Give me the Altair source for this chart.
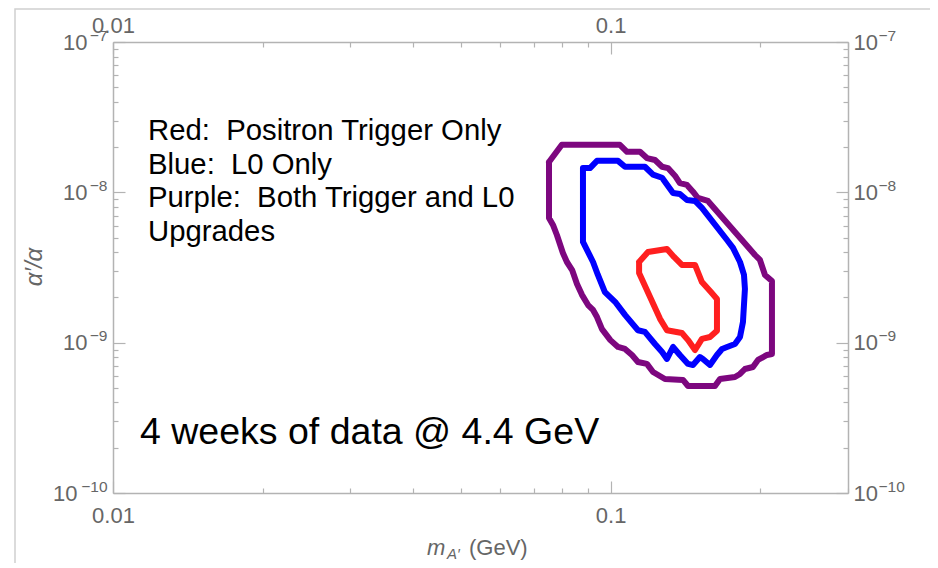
import altair as alt
import pandas as pd

# ---------------- data ----------------
# contour vertices: m_A' in GeV, alpha'/alpha in units of 1e-9
purple_m = [0.0752, 0.0798, 0.1044, 0.1079, 0.1146, 0.1183, 0.1228, 0.1269, 0.1304, 0.1347,
            0.1378, 0.1424, 0.1464, 0.1498, 0.1569, 0.1951, 0.1996, 0.2043, 0.2110, 0.2110,
            0.2062, 0.1978, 0.1932, 0.1862, 0.1820, 0.1778, 0.1659, 0.1621, 0.1431, 0.1398,
            0.1286, 0.1217, 0.1183, 0.1135, 0.1104, 0.1069, 0.1035, 0.0999, 0.0961, 0.0939,
            0.0922, 0.0901, 0.0876, 0.0856, 0.0837, 0.0817, 0.0802, 0.0780, 0.0766, 0.0752]
purple_a = [15.9, 20.7, 20.7, 18.6, 18.6, 16.9, 16.4, 14.8, 14.5, 12.9,
            11.5, 11.2, 10.1, 9.17, 8.76, 3.83, 3.55, 2.82, 2.57, 0.841,
            0.828, 0.767, 0.689, 0.668, 0.619, 0.591, 0.573, 0.515, 0.515, 0.565,
            0.573, 0.638, 0.722, 0.744, 0.828, 0.908, 0.936, 1.04, 1.23, 1.48,
            1.65, 1.78, 2.08, 2.46, 3.04, 3.44, 3.95, 5.20, 6.07, 6.75]

blue_m = [0.0880, 0.0909, 0.0939, 0.1035, 0.1069, 0.1172, 0.1217, 0.1269, 0.1335, 0.1378,
          0.1424, 0.1478, 0.1526, 0.1714, 0.1762, 0.1820, 0.1854, 0.1862, 0.1845, 0.1820,
          0.1778, 0.1714, 0.1675, 0.1636, 0.1584, 0.1533, 0.1512, 0.1464, 0.1431, 0.1378,
          0.1335, 0.1298, 0.1269, 0.1228, 0.1172, 0.1135, 0.1069, 0.1021, 0.0974, 0.0943,
          0.0922, 0.0880]
blue_a = [14.5, 14.5, 16.2, 16.2, 14.8, 14.8, 13.1, 12.5, 9.90, 9.75,
          8.90, 8.76, 7.87, 4.82, 4.27, 3.44, 2.82, 2.28, 1.37, 1.09,
          0.98, 0.936, 0.908, 0.828, 0.711, 0.779, 0.803, 0.711, 0.722, 0.828,
          0.936, 0.779, 0.867, 0.98, 1.18, 1.21, 1.53, 1.87, 2.17, 2.82,
          3.44, 4.68]

red_m = [0.1141, 0.1189, 0.1298, 0.1341, 0.1391, 0.1478, 0.1526, 0.1591, 0.1636, 0.1636,
         0.1584, 0.1526, 0.1478, 0.1431, 0.1391, 0.1298, 0.1257, 0.1141]
red_a = [3.44, 4.01, 4.20, 3.72, 3.29, 3.29, 2.53, 2.17, 1.95, 1.20,
         1.09, 1.06, 0.894, 1.04, 1.16, 1.21, 1.44, 2.91]

series_names = ["Purple", "Blue", "Red"]
series_colors = ["#7d077f", "#0000ff", "#ff1f1f"]

x_major = [0.01, 0.1]
x_major_labels = ["0.01", "0.1"]
x_minor = [0.02, 0.03, 0.04, 0.05, 0.06, 0.07, 0.08, 0.09, 0.2, 0.3]
y_major = [1e-10, 1e-9, 1e-8, 1e-7]
y_major_exp = [-10, -9, -8, -7]
y_base_label = "10"
y_sup_labels = ["\u221210", "\u22129", "\u22128", "\u22127"]
y_minor = [2e-10, 3e-10, 4e-10, 5e-10, 6e-10, 7e-10, 8e-10, 9e-10,
           2e-9, 3e-9, 4e-9, 5e-9, 6e-9, 7e-9, 8e-9, 9e-9,
           2e-8, 3e-8, 4e-8, 5e-8, 6e-8, 7e-8, 8e-8, 9e-8]

legend_lines = ["Red:\u00a0 Positron Trigger Only",
                "Blue:\u00a0 L0 Only",
                "Purple:\u00a0 Both Trigger and L0",
                "Upgrades"]
note_text = "4 weeks of data @ 4.4 GeV"

# ---------------- build table ----------------
rows = []
for name, ms, als in [("Purple", purple_m, purple_a), ("Blue", blue_m, blue_a), ("Red", red_m, red_a)]:
    pts = list(zip(ms, als)) + [(ms[0], als[0])]
    for i, (m, a) in enumerate(pts):
        rows.append({"series": name, "m": m, "ratio": a * 1e-9, "i": i})
df = pd.DataFrame(rows)

W, H = 735, 451
GRAY = "#666666"
FRAME = "#b3b3b3"
FONT = "Liberation Sans"

xs = alt.Scale(type="log", domain=[0.01, 0.3], nice=False)
ys = alt.Scale(type="log", domain=[1e-10, 1e-7], nice=False)

x_expr = " : ".join(
    [f"abs(datum.value - {v}) < {v / 10} ? '{lab}'" for v, lab in zip(x_major, x_major_labels)]
) + " : ''"
y_sup_expr = " : ".join(
    [f"round(log(datum.value) / LN10) == {e} ? '{lab}'" for e, lab in zip(y_major_exp, y_sup_labels)]
) + " : ''"
y_base_expr = f"'{y_base_label}'"


def label_axis(orient, values, expr, pad, size=22, domain=False, **kw):
    opts = dict(orient=orient, values=values, labelExpr=expr, ticks=False, tickSize=0,
                labelPadding=pad, labelFontSize=size, labelColor=GRAY, labelFont=FONT,
                domain=domain, grid=False, title=None, labelFlush=False, labelOverlap=False)
    if domain:
        opts.update(domainColor=FRAME, domainWidth=1.5)
    opts.update(kw)
    return alt.Axis(**opts)


def tick_axis(orient, values, size, offset):
    return alt.Axis(orient=orient, values=values, labels=False, domain=False, ticks=True,
                    tickSize=size, tickColor=FRAME, tickWidth=1.2, offset=offset,
                    grid=False, title=None)


def layer(xaxis, yaxis, visible=False):
    enc = dict(
        x=alt.X("m:Q", scale=xs, axis=xaxis),
        y=alt.Y("ratio:Q", scale=ys, axis=yaxis),
        detail="series:N",
        order="i:Q",
    )
    if visible:
        enc["color"] = alt.Color("series:N", scale=alt.Scale(domain=series_names, range=series_colors),
                                 legend=None)
        mk = alt.Chart(df).mark_line(strokeWidth=6, strokeJoin="round", strokeCap="round")
    else:
        mk = alt.Chart(df).mark_line(strokeWidth=1, opacity=0)
    return mk.encode(**enc)


# visible contours + bottom x labels + left "10" (for 1e-9 .. 1e-7)
lines_main = layer(label_axis("bottom", x_major, x_expr, 12, domain=True),
                   label_axis("left", y_major[1:], y_base_expr, 26, domain=True,
                              labelBaseline="middle", labelAlign="right"),
                   visible=True)
# top x labels + right "10"
labels_opp = layer(label_axis("top", x_major, x_expr, 10, domain=True, labelBaseline="alphabetic"),
                   label_axis("right", y_major, y_base_expr, 5, domain=True,
                              labelBaseline="middle", labelAlign="left"))
# left "10" for 1e-10 (wider exponent)
labels_l10 = layer(None, label_axis("left", y_major[:1], y_base_expr, 36,
                                    labelBaseline="middle", labelAlign="right"))
# exponents
labels_lsup = layer(None, label_axis("left", y_major, y_sup_expr, 6, size=15.5,
                                     labelBaseline="middle", labelAlign="right", labelOffset=-7))
labels_rsup = layer(None, label_axis("right", y_major, y_sup_expr, 30, size=15.5,
                                     labelBaseline="middle", labelAlign="left", labelOffset=-7))

ticks_a = layer(tick_axis("top", x_major, 12, -H), tick_axis("right", y_major, 12, -W))
ticks_b = layer(tick_axis("bottom", x_major, 12, -H), tick_axis("left", y_major, 12, -W))
ticks_c = layer(tick_axis("top", x_minor, 5, -H), tick_axis("right", y_minor, 5, -W))
ticks_d = layer(tick_axis("bottom", x_minor, 5, -H), tick_axis("left", y_minor, 5, -W))

one = pd.DataFrame({"k": [0]})

border = alt.Chart(one).mark_rect(fillOpacity=0, stroke="#d0d0d0", strokeWidth=1.5).encode(
    x=alt.value(-98), x2=alt.value(821), y=alt.value(-33), y2=alt.value(560))

legend = alt.Chart(pd.DataFrame({"t": ["\n".join(legend_lines)]})).mark_text(
    align="left", baseline="alphabetic", fontSize=29.3, font=FONT, color="black",
    lineBreak="\n", lineHeight=33.5).encode(x=alt.value(35), y=alt.value(98), text="t:N")

note = alt.Chart(pd.DataFrame({"t": [note_text]})).mark_text(
    align="left", baseline="alphabetic", fontSize=37.5, font=FONT, color="black").encode(
    x=alt.value(27), y=alt.value(402), text="t:N")

ytitle = alt.Chart(pd.DataFrame({"t": ["\u03b1\u2032/\u03b1"]})).mark_text(
    align="center", baseline="middle", fontSize=24, font=FONT, fontStyle="italic",
    color=GRAY, angle=270).encode(x=alt.value(-78), y=alt.value(225), text="t:N")

xt_m = alt.Chart(pd.DataFrame({"t": ["m"]})).mark_text(
    align="left", baseline="alphabetic", fontSize=22, font=FONT, fontStyle="italic",
    color=GRAY).encode(x=alt.value(314), y=alt.value(513), text="t:N")
xt_sub = alt.Chart(pd.DataFrame({"t": ["A\u2032"]})).mark_text(
    align="left", baseline="alphabetic", fontSize=15, font=FONT, fontStyle="italic",
    color=GRAY).encode(x=alt.value(334), y=alt.value(517), text="t:N")
xt_unit = alt.Chart(pd.DataFrame({"t": ["(GeV)"]})).mark_text(
    align="left", baseline="alphabetic", fontSize=22, font=FONT,
    color=GRAY).encode(x=alt.value(356), y=alt.value(513), text="t:N")

chart = alt.layer(
    border, ticks_a, ticks_b, ticks_c, ticks_d, labels_l10, labels_lsup, labels_rsup,
    labels_opp, lines_main, legend, note, ytitle, xt_m, xt_sub, xt_unit
).resolve_axis(x="independent", y="independent").properties(
    width=W, height=H,
    autosize=alt.AutoSizeParams(type="none"),
    padding={"left": 105, "top": 34, "right": 82, "bottom": 70},
    background="white",
).configure_view(strokeWidth=0)

chart.save("out.html", embed_options={"renderer": "svg", "actions": False})
